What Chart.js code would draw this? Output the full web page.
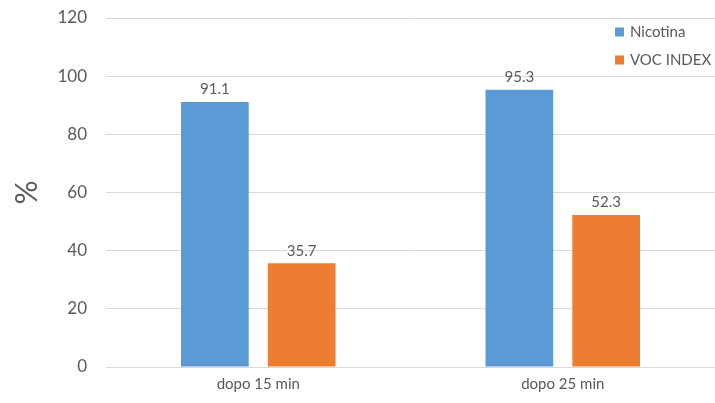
<!doctype html>
<html lang="it">
<head>
<meta charset="utf-8">
<title>Nicotina / VOC INDEX</title>
<style>
  * { margin: 0; padding: 0; }
  body { background: #fff; }
  .chartBox { width: 715px; height: 403px; }
</style>
</head>
<body>
<div class="chartBox"><canvas id="myChart"></canvas></div>
<script src="https://cdn.jsdelivr.net/npm/chart.js"></script>
<script>
const categories = ['dopo 15 min', 'dopo 25 min'];
const nicotina = [91.1, 95.3];
const vocIndex = [35.7, 52.3];
const seriesNames = ['Nicotina', 'VOC INDEX'];

const BLUE = '#5B9BD5';
const ORANGE = '#ED7D31';
const TEXT = '#595959';
const FONT = 'Lato, "Open Sans", sans-serif';

// value labels above bars
const barLabels = {
  id: 'barLabels',
  afterDatasetsDraw(chart) {
    const { ctx } = chart;
    ctx.save();
    ctx.font = '15px ' + FONT;
    ctx.fillStyle = TEXT;
    ctx.textAlign = 'center';
    ctx.textBaseline = 'bottom';
    chart.data.datasets.forEach((ds, i) => {
      chart.getDatasetMeta(i).data.forEach((bar, j) => {
        ctx.fillText(ds.data[j].toFixed(1), bar.x, bar.y - 5);
      });
    });
    ctx.restore();
  }
};

// legend drawn inside plot, top right
const cornerLegend = {
  id: 'cornerLegend',
  afterDraw(chart) {
    const { ctx } = chart;
    ctx.save();
    ctx.font = '15px ' + FONT;
    ctx.textBaseline = 'middle';
    chart.data.datasets.forEach((ds, i) => {
      const y = 32 + i * 28;
      ctx.fillStyle = ds.backgroundColor;
      ctx.fillRect(615, y - 4.5, 9, 9);
      ctx.fillStyle = TEXT;
      ctx.fillText(ds.label, 630, y);
    });
    ctx.restore();
  }
};

const data = {
  labels: categories,
  datasets: [
    { label: seriesNames[0], data: nicotina, backgroundColor: BLUE },
    { label: seriesNames[1], data: vocIndex, backgroundColor: ORANGE }
  ]
};

const config = {
  type: 'bar',
  data,
  options: {
    responsive: true,
    maintainAspectRatio: false,
    animation: false,
    layout: { padding: { top: 18, right: 0, left: 0, bottom: 0 } },
    datasets: {
      bar: { categoryPercentage: 0.57, barPercentage: 0.78 }
    },
    plugins: {
      legend: { display: false },
      tooltip: { enabled: false }
    },
    scales: {
      x: {
        grid: { display: false, drawTicks: false },
        border: { display: true, color: '#d9d9d9', width: 1 },
        ticks: { color: TEXT, font: { family: FONT, size: 15 }, padding: 8 },
        afterFit(scale) {
          scale.height = 36;
          scale.paddingLeft = 0;
          scale.paddingRight = 0;
        }
      },
      y: {
        min: 0,
        max: 120,
        ticks: { stepSize: 20, color: TEXT, font: { family: FONT, size: 17 }, padding: 19 },
        grid: { color: '#d9d9d9', drawTicks: false },
        border: { display: false },
        title: {
          display: true,
          text: '%',
          color: TEXT,
          font: { family: FONT, size: 30 },
          padding: { top: 9, bottom: 0 }
        },
        afterFit(scale) {
          scale.width = 106;
          scale.paddingTop = 0;
          scale.paddingBottom = 0;
        }
      }
    }
  },
  plugins: [barLabels, cornerLegend]
};

const myChart = new Chart(document.getElementById('myChart'), config);
</script>
</body>
</html>
